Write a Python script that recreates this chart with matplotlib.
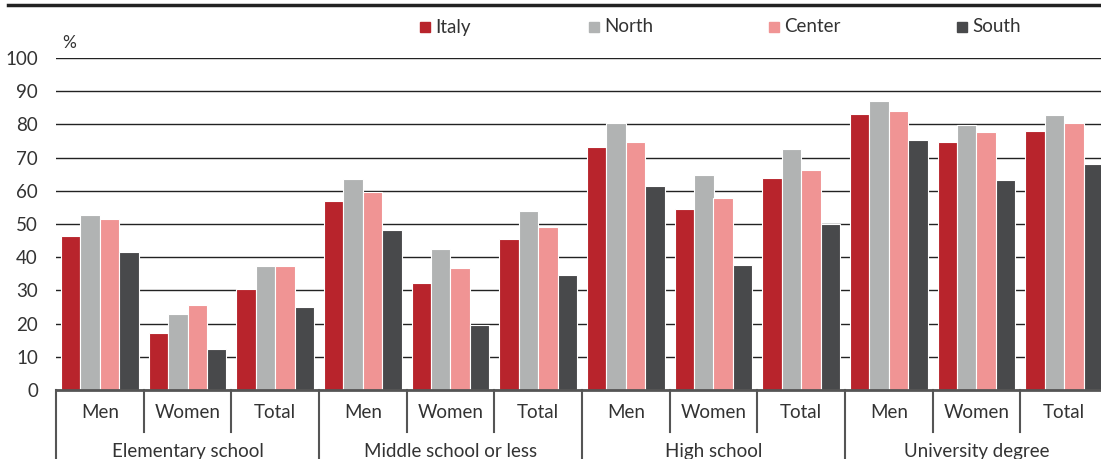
import matplotlib
matplotlib.use("Agg")
import matplotlib.pyplot as plt
from matplotlib.lines import Line2D
from matplotlib.patches import Rectangle
import numpy as np

plt.rcParams["font.family"] = ["Lato", "DejaVu Sans"]

# ── data ──────────────────────────────────────────────
levels = ["Elementary school", "Middle school or less", "High school", "University degree"]
groups = ["Men", "Women", "Total"]
series = ["Italy", "North", "Center", "South"]

italy  = [46.5, 17.1, 30.3, 57.0, 32.3, 45.6, 73.2, 54.6, 63.9, 83.1, 74.7, 78.0]
north  = [52.8, 22.8, 37.2, 63.6, 42.6, 53.9, 80.4, 64.8, 72.6, 87.0, 79.8, 82.8]
center = [51.5, 25.7, 37.2, 59.7, 36.8, 49.1, 74.7, 57.9, 66.3, 84.0, 77.7, 80.4]
south  = [41.5, 12.2, 24.9, 48.3, 19.5, 34.7, 61.4, 37.7, 50.0, 75.3, 63.3, 68.1]

COLORS = ["#B8242C", "#B1B3B3", "#F09494", "#48494B"]
TXT = "#333333"
FS = 13.5

W, H = 1101, 459
fig = plt.figure(figsize=(W / 100, H / 100), dpi=100)
ax = fig.add_axes([56 / W, (H - 390) / H, 1052 / W, 332 / H])

n = len(italy)
x = np.arange(n) + 0.5
bw = 0.222
for k, (vals, col) in enumerate(zip([italy, north, center, south], COLORS)):
    ax.bar(x + (k - 1.5) * bw, vals, width=bw, color=col,
           edgecolor="white", linewidth=0.8, zorder=3)

ax.set_xlim(0, n)
ax.set_ylim(0, 100)
ax.set_yticks(range(0, 101, 10))
ax.tick_params(axis="y", length=0, labelsize=FS, labelcolor=TXT, pad=13)
ax.set_xticks([])
ax.grid(axis="y", color="#222222", linewidth=1.0, zorder=0)
for s in ["top", "right", "left"]:
    ax.spines[s].set_visible(False)
ax.spines["bottom"].set_color("#555555")
ax.spines["bottom"].set_linewidth(2)
ax.spines["bottom"].set_zorder(4)

# two-level category axis
tr = ax.get_xaxis_transform()
for i in range(n + 1):
    y_end = -0.25 if i % 3 == 0 else -0.1265
    ax.add_line(Line2D([i, i], [0, y_end], transform=tr, color="#555555",
                       linewidth=1.5, clip_on=False))
for i in range(n):
    ax.text(i + 0.5, -0.069, groups[i % 3], transform=tr, ha="center", va="center",
            fontsize=FS, color=TXT)
for j, lab in enumerate(levels):
    ax.text(3 * j + 1.5, -0.186, lab, transform=tr, ha="center", va="center",
            fontsize=FS, color=TXT)

ax.text(62 / W, (H - 43) / H, "%", transform=fig.transFigure, ha="left",
        va="center", fontsize=12.5, color=TXT)

# top rule
fig.add_artist(Line2D([8 / W, 1.0], [(H - 5) / H] * 2, color="#222222",
                      linewidth=2.5, transform=fig.transFigure))

# legend
leg_x = [420, 589, 769, 957]
for xs, lab, col in zip(leg_x, series, COLORS):
    fig.add_artist(Rectangle((xs / W, (H - 32) / H), 10 / W, 10 / H,
                             transform=fig.transFigure, color=col))
    fig.text((xs + 15) / W, (H - 27) / H, lab, ha="left", va="center",
             fontsize=FS, color=TXT)

fig.savefig("out.png", dpi=100, facecolor="white")
